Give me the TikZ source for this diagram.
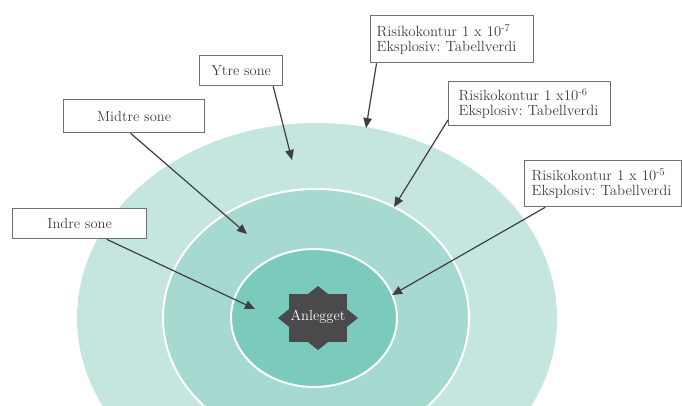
\documentclass[tikz,border=0pt]{standalone}
\usepackage{fontspec}
\usetikzlibrary{arrows.meta,calc}
\definecolor{zoneout}{HTML}{C5E6DE}
\definecolor{zonemid}{HTML}{A6D9CF}
\definecolor{zonein}{HTML}{7BCBBD}
\definecolor{plant}{HTML}{4A494B}
\definecolor{ink}{HTML}{3F3F42}
\definecolor{frame}{HTML}{707070}
\newcommand{\labelsize}{\fontsize{14.5pt}{15pt}\selectfont\frenchspacing}
\newcommand{\risksize}{\fontsize{14.8pt}{15pt}\selectfont\frenchspacing}
\begin{document}
\begin{tikzpicture}[x=1pt,y=-1pt,
  every node/.style={font=\labelsize, text=ink},
  zonebox/.style={draw=frame, line width=1.3pt, fill=white, inner sep=0pt, anchor=north west},
  riskbox/.style={draw=frame, line width=1.3pt, fill=white, anchor=north west, align=left,
    inner ysep=0pt, font=\risksize},
  pointer/.style={draw=ink, line width=1.2pt, -{Triangle[length=10pt,width=8.5pt]}},
  ring/.style={draw=white, line width=2pt}]
\useasboundingbox (0,0) rectangle (682,405);

% concentric zones around the plant
\begin{scope}
  \clip (0,0) rectangle (682,405);
  \fill[zoneout] (317,318) ellipse [x radius=240, y radius=195];
  \filldraw[fill=zonemid, ring] (316,318) ellipse [x radius=153, y radius=129];
  \filldraw[fill=zonein, ring] (314,318) ellipse [x radius=83, y radius=69];
\end{scope}

% eight-pointed star marking the plant
\fill[plant] (289,294) rectangle (347,342);
\fill[plant] (278,318) -- (318,286) -- (358,318) -- (318,350) -- cycle;
\node[text=white] (plant) at (318,317) {Anlegget};

% zone labels
\node[zonebox, minimum width=83pt, minimum height=30pt] (ytre) at (199,55) {Ytre sone};
\node[zonebox, minimum width=141pt, minimum height=33pt] (midtre) at (63,99) {Midtre sone};
\node[zonebox, minimum width=134pt, minimum height=30pt] (indre) at (12,208) {Indre sone};

% risk contour labels
\node[riskbox, inner xsep=6pt, text width=151pt, minimum height=47pt] (r7) at (370,15)
  {Risikokontur 1 x 10\textsuperscript{-7}\\Eksplosiv: Tabellverdi};
\node[riskbox, inner xsep=10pt, text width=142pt, minimum height=44pt] (r6) at (448,81)
  {Risikokontur 1 x10\textsuperscript{-6}\\Eksplosiv: Tabellverdi};
\node[riskbox, inner xsep=7pt, text width=143pt, minimum height=46pt] (r5) at (524,160)
  {Risikokontur 1 x 10\textsuperscript{-5}\\Eksplosiv: Tabellverdi};

% arrow targets
\coordinate (ytretip) at (292,160);
\coordinate (r7tip) at (366,128);
\coordinate (midtretip) at (247,234);
\coordinate (r6tip) at (394,207);
\coordinate (indretip) at (255,309);
\coordinate (r5tip) at (392,295);

% pointers
\draw[pointer] ($(ytre.south west)!0.88!(ytre.south east)$) -- (ytretip);
\draw[pointer] ($(r7.south west)!0.04!(r7.south east)$) -- (r7tip);
\draw[pointer] ($(midtre.south west)!0.475!(midtre.south east)$) -- (midtretip);
\draw[pointer] ($(r6.north west)!0.86!(r6.south west)$) -- (r6tip);
\draw[pointer] ($(indre.south west)!0.70!(indre.south east)$) -- (indretip);
\draw[pointer] ($(r5.south west)!0.134!(r5.south east)$) -- (r5tip);
\end{tikzpicture}
\end{document}
